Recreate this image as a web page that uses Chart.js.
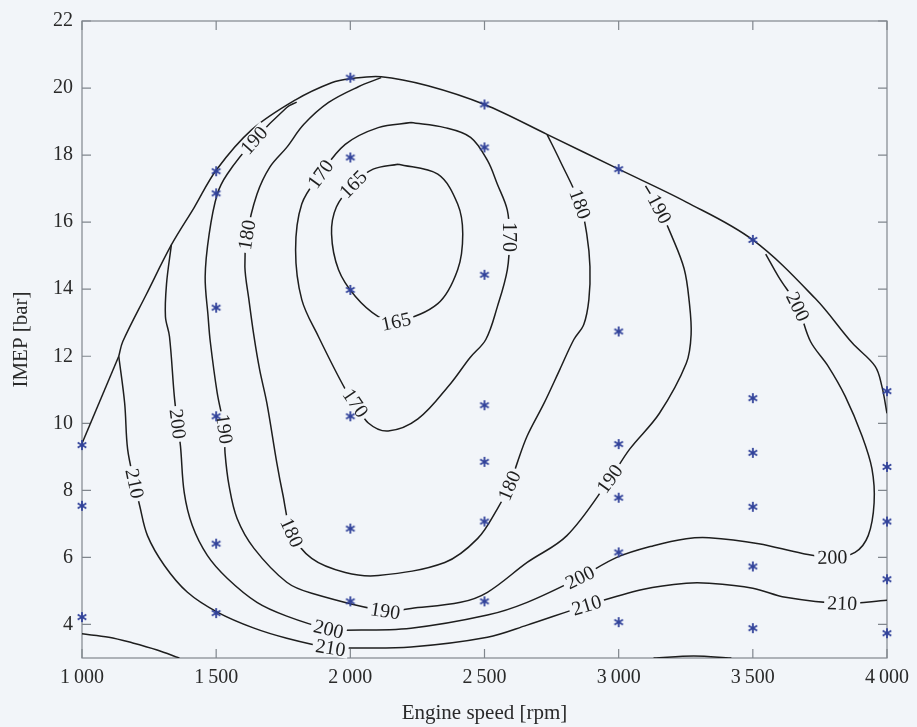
<!DOCTYPE html>
<html>
<head>
<meta charset="utf-8">
<title>IMEP contour map</title>
<script src="https://cdn.jsdelivr.net/npm/chart.js@4.4.0/dist/chart.umd.min.js"></script>
<style>
  html, body { margin: 0; padding: 0; background: #f2f5f9; }
  canvas { display: block; }
</style>
</head>
<body>
<canvas id="map" width="917" height="727"></canvas>
<script>
// axis ticks
const speedTicks = [1000, 1500, 2000, 2500, 3000, 3500, 4000];
const imepTicks = [4, 6, 8, 10, 12, 14, 16, 18, 20, 22];

// measured operating points
const testRpm = [
  1000, 1000, 1000,
  1500, 1500, 1500, 1500, 1500, 1500,
  2000, 2000, 2000, 2000, 2000, 2000,
  2500, 2500, 2500, 2500, 2500, 2500, 2500,
  3000, 3000, 3000, 3000, 3000, 3000,
  3500, 3500, 3500, 3500, 3500, 3500,
  4000, 4000, 4000, 4000, 4000
];
const testImep = [
  9.35, 7.54, 4.22,
  17.52, 16.86, 13.45, 10.21, 6.41, 4.34,
  20.31, 17.93, 13.98, 10.21, 6.86, 4.69,
  19.51, 18.23, 14.43, 10.54, 8.85, 7.07, 4.69,
  17.58, 12.74, 9.38, 7.78, 6.15, 4.07,
  15.47, 10.75, 9.12, 7.51, 5.73, 3.89,
  10.96, 8.70, 7.07, 5.35, 3.74
];

// full load line
const fullRpm = [1000, 1137, 1152, 1240, 1333, 1419, 1500, 1633, 1796, 1930, 2000, 2115, 2289, 2500, 2733, 3000, 3252, 3500, 3733, 3870, 3956, 3981, 4000];
const fullImep = [9.40, 12.00, 12.44, 13.85, 15.32, 16.45, 17.55, 18.76, 19.65, 20.16, 20.28, 20.34, 20.07, 19.51, 18.62, 17.58, 16.60, 15.47, 13.72, 12.40, 11.70, 11.10, 10.30];

// specific consumption contours [g/kWh]
const c165Rpm = [2178, 2326, 2400, 2419, 2400, 2326, 2170, 2104, 2019, 1956, 1930, 1948, 2011, 2085, 2178];
const c165Imep = [17.73, 17.43, 16.54, 15.65, 14.58, 13.57, 13.03, 13.18, 13.78, 14.58, 15.65, 16.45, 17.13, 17.58, 17.73];
const c165Labels = [6, 12];

const c170Rpm = [2226, 2352, 2448, 2511, 2548, 2585, 2593, 2585, 2548, 2505, 2445, 2374, 2252, 2141, 2067, 2019, 1981, 1881, 1819, 1796, 1819, 1889, 1981, 2104, 2226];
const c170Imep = [18.97, 18.82, 18.53, 17.84, 17.13, 16.36, 15.56, 14.58, 13.48, 12.50, 11.95, 11.19, 10.13, 9.77, 10.01, 10.60, 11.02, 12.59, 13.69, 15.17, 16.54, 17.43, 18.32, 18.82, 18.97];
const c170Labels = [6, 15, 21];

const c180Rpm = [2115, 2030, 1919, 1826, 1763, 1700, 1652, 1615, 1607, 1622, 1641, 1662, 1689, 1726, 1748, 1781, 1856, 1981, 2104, 2352, 2474, 2548, 2593, 2622, 2659, 2722, 2781, 2833, 2870, 2889, 2893, 2881, 2856, 2781, 2733];
const c180Imep = [20.31, 20.04, 19.57, 18.91, 18.23, 17.64, 16.83, 15.62, 14.67, 13.69, 12.59, 11.60, 10.60, 8.82, 7.90, 6.74, 5.97, 5.55, 5.46, 5.85, 6.56, 7.45, 8.14, 8.82, 9.62, 10.60, 11.61, 12.50, 12.95, 13.69, 14.67, 15.65, 16.54, 17.84, 18.62];
const c180Labels = [7, 15, 22, 32];

const c190Rpm = [1800, 1763, 1641, 1541, 1504, 1474, 1459, 1470, 1478, 1504, 1530, 1533, 1548, 1578, 1641, 1763, 1856, 2130, 2226, 2411, 2511, 2659, 2807, 2967, 3041, 3152, 3252, 3270, 3263, 3244, 3196, 3152, 3100];
const c190Imep = [19.58, 19.42, 18.44, 17.43, 16.83, 15.65, 14.37, 13.18, 12.44, 10.90, 9.83, 9.12, 8.14, 7.16, 6.27, 5.26, 4.93, 4.40, 4.48, 4.66, 4.96, 5.85, 6.65, 8.34, 9.23, 10.30, 11.79, 12.65, 13.63, 14.61, 15.62, 16.39, 17.08];
const c190Labels = [2, 10, 17, 23, 31];

const c200Rpm = [1333, 1315, 1311, 1326, 1344, 1356, 1367, 1381, 1411, 1467, 1541, 1652, 1763, 1919, 1981, 2226, 2511, 2659, 2856, 2993, 3130, 3252, 3337, 3522, 3685, 3796, 3881, 3930, 3952, 3944, 3907, 3844, 3781, 3715, 3667, 3596, 3548];
const c200Imep = [15.32, 14.16, 13.18, 12.59, 10.81, 9.98, 9.32, 7.93, 6.95, 6.06, 5.38, 4.66, 4.25, 3.86, 3.83, 3.89, 4.28, 4.66, 5.40, 6.00, 6.35, 6.56, 6.59, 6.41, 6.12, 6.00, 6.15, 6.65, 7.63, 8.64, 9.62, 10.81, 11.70, 12.44, 13.48, 14.37, 15.05];
const c200Labels = [5, 13, 18, 25, 34];

const c210Rpm = [1137, 1159, 1170, 1196, 1215, 1244, 1307, 1393, 1504, 1641, 1763, 1926, 1993, 2226, 2511, 2659, 2881, 3093, 3252, 3337, 3500, 3622, 3833, 4000];
const c210Imep = [12.00, 10.60, 9.23, 8.20, 7.54, 6.65, 5.76, 4.96, 4.37, 3.89, 3.59, 3.30, 3.30, 3.33, 3.62, 3.98, 4.57, 5.05, 5.23, 5.23, 5.08, 4.81, 4.63, 4.72];
const c210Labels = [3, 11, 16, 22];

// unlabelled pieces along the lower edge
const c220Rpm = [1000, 1100, 1189, 1280, 1363];
const c220Imep = [3.72, 3.62, 3.45, 3.24, 3.00];
const c220bRpm = [3130, 3280, 3420];
const c220bImep = [3.00, 3.06, 3.00];

const bg = '#f2f5f9';
const ink = '#1e1e1e';
const frameColor = '#80868d';
const starColor = '#31429a';
const serif = '"Liberation Serif", "Times New Roman", serif';

const contours = [
  { level: 165, rpm: c165Rpm, imep: c165Imep, labels: c165Labels },
  { level: 170, rpm: c170Rpm, imep: c170Imep, labels: c170Labels },
  { level: 180, rpm: c180Rpm, imep: c180Imep, labels: c180Labels },
  { level: 190, rpm: c190Rpm, imep: c190Imep, labels: c190Labels },
  { level: 200, rpm: c200Rpm, imep: c200Imep, labels: c200Labels },
  { level: 210, rpm: c210Rpm, imep: c210Imep, labels: c210Labels },
  { level: 220, rpm: c220Rpm, imep: c220Imep, labels: [] },
  { level: 220, rpm: c220bRpm, imep: c220bImep, labels: [] }
];

// six-pointed asterisk marker
function asterisk(r, color) {
  const c = document.createElement('canvas');
  const s = Math.ceil(r * 2 + 4);
  c.width = s; c.height = s;
  const g = c.getContext('2d');
  g.strokeStyle = color;
  g.lineWidth = 1.8;
  g.translate(s / 2, s / 2);
  for (let k = 0; k < 3; k++) {
    const a = Math.PI / 2 + k * Math.PI / 3;
    g.beginPath();
    g.moveTo(Math.cos(a) * r, Math.sin(a) * r);
    g.lineTo(-Math.cos(a) * r, -Math.sin(a) * r);
    g.stroke();
  }
  return c;
}

function line(rpm, imep, tension) {
  return {
    data: rpm.map((r, i) => ({ x: r, y: imep[i] })),
    showLine: true,
    pointRadius: 0,
    borderColor: ink,
    borderWidth: 1.5,
    tension: tension,
    fill: false
  };
}

const datasets = [
  {
    data: testRpm.map((r, i) => ({ x: r, y: testImep[i] })),
    pointStyle: asterisk(5, starColor),
    pointRadius: 5,
    showLine: false,
    clip: false
  },
  line(fullRpm.slice(0, 2), fullImep.slice(0, 2), 0),
  line(fullRpm.slice(1), fullImep.slice(1), 0.35)
];
contours.forEach(c => datasets.push(line(c.rpm, c.imep, 0.35)));

// box with inward ticks on all four sides
const frame = {
  id: 'frame',
  beforeDatasetsDraw(chart) {
    const { ctx, chartArea: a, scales: { x, y } } = chart;
    ctx.save();
    ctx.strokeStyle = frameColor;
    ctx.lineWidth = 1.2;
    ctx.strokeRect(a.left, a.top, a.right - a.left, a.bottom - a.top);
    ctx.beginPath();
    speedTicks.forEach(v => {
      const px = x.getPixelForValue(v);
      ctx.moveTo(px, a.bottom); ctx.lineTo(px, a.bottom - 9);
      ctx.moveTo(px, a.top); ctx.lineTo(px, a.top + 9);
    });
    imepTicks.forEach(v => {
      const py = y.getPixelForValue(v);
      ctx.moveTo(a.left, py); ctx.lineTo(a.left + 9, py);
      ctx.moveTo(a.right, py); ctx.lineTo(a.right - 9, py);
    });
    ctx.stroke();
    ctx.restore();
  }
};

// inline level labels, drawn just before the markers
const levelLabels = {
  id: 'levelLabels',
  beforeDatasetDraw(chart, args) {
    if (args.index !== 0) return;
    const { ctx, scales: { x, y } } = chart;
    ctx.save();
    ctx.font = '20px ' + serif;
    ctx.textAlign = 'center';
    ctx.textBaseline = 'middle';
    contours.forEach(c => {
      c.labels.forEach(i => {
        const n = c.rpm.length;
        const i0 = Math.max(0, i - 1), i1 = Math.min(n - 1, i + 1);
        const dx = x.getPixelForValue(c.rpm[i1]) - x.getPixelForValue(c.rpm[i0]);
        const dy = y.getPixelForValue(c.imep[i1]) - y.getPixelForValue(c.imep[i0]);
        let ang = Math.atan2(dy, dx);
        if (ang > Math.PI / 2) ang -= Math.PI;
        if (ang <= -Math.PI / 2) ang += Math.PI;
        const txt = String(c.level);
        const w = ctx.measureText(txt).width + 6;
        ctx.save();
        ctx.translate(x.getPixelForValue(c.rpm[i]), y.getPixelForValue(c.imep[i]));
        ctx.rotate(ang);
        ctx.fillStyle = bg;
        ctx.fillRect(-w / 2, -8, w, 16);
        ctx.fillStyle = ink;
        ctx.fillText(txt, 0, 1);
        ctx.restore();
      });
    });
    ctx.restore();
  }
};

const config = {
  type: 'scatter',
  data: { datasets },
  options: {
    responsive: false,
    animation: false,
    events: [],
    layout: { padding: { top: 18, right: 26, left: 0, bottom: 0 } },
    plugins: { legend: { display: false }, tooltip: { enabled: false } },
    scales: {
      x: {
        type: 'linear',
        min: 1000,
        max: 4000,
        grid: { display: false, drawTicks: false },
        border: { display: false },
        afterBuildTicks: s => { s.ticks = speedTicks.map(v => ({ value: v })); },
        afterFit: s => { s.height = 69; },
        ticks: {
          color: '#2a2a2a',
          font: { family: serif, size: 20 },
          padding: 8,
          maxRotation: 0,
          callback: v => v >= 1000 ? Math.floor(v / 1000) + '\u2009' + String(v % 1000).padStart(3, '0') : String(v)
        },
        title: {
          display: true,
          text: 'Engine speed [rpm]',
          color: '#2a2a2a',
          font: { family: serif, size: 21 },
          padding: { top: 0, bottom: 1 }
        }
      },
      y: {
        type: 'linear',
        min: 3,
        max: 22,
        grid: { display: false, drawTicks: false },
        border: { display: false },
        afterBuildTicks: s => { s.ticks = imepTicks.map(v => ({ value: v })); },
        afterFit: s => { s.width = 82; },
        ticks: {
          color: '#2a2a2a',
          font: { family: serif, size: 20 },
          padding: 9
        },
        title: {
          display: true,
          text: 'IMEP [bar]',
          color: '#2a2a2a',
          font: { family: serif, size: 21 },
          padding: { top: 9, bottom: 0 }
        }
      }
    }
  },
  plugins: [frame, levelLabels]
};

const mapChart = new Chart(document.getElementById('map'), config);
</script>
</body>
</html>
